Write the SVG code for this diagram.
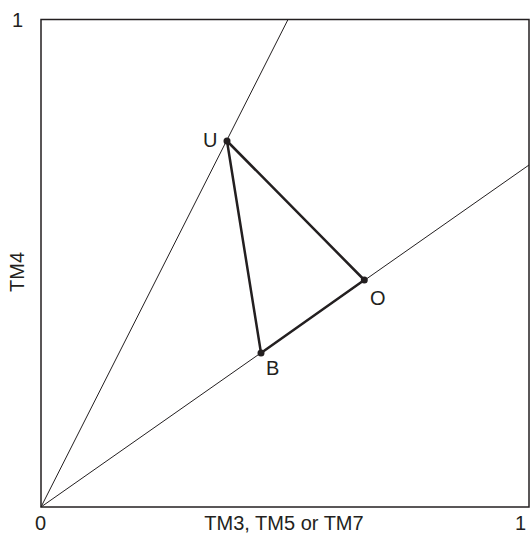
<svg xmlns="http://www.w3.org/2000/svg" width="531" height="536" viewBox="0 0 531 536">
<style>
text{font-family:"Liberation Sans",Arial,sans-serif;font-size:20px;fill:#231f20}
.frame{fill:none;stroke:#231f20;stroke-width:1.5}
.thin{fill:none;stroke:#231f20;stroke-width:1}
.thick{fill:none;stroke:#231f20;stroke-width:2.5;stroke-linejoin:round}
.dot{fill:#231f20}
</style>
<rect width="531" height="536" fill="#fff"/>
<g id="axes">
<rect class="frame" x="41" y="19.5" width="488" height="487.5"/>
<text x="12" y="27">1</text>
<text x="35" y="530">0</text>
<text x="515" y="530">1</text>
<text x="284" y="530" text-anchor="middle">TM3, TM5 or TM7</text>
<text transform="translate(24,272) rotate(-90)" text-anchor="middle">TM4</text>
</g>
<g id="connectors">
<line class="thin" x1="41" y1="507" x2="288" y2="19.5"/>
<line class="thin" x1="41" y1="507" x2="529" y2="165"/>
<polygon class="thick" points="227,141 364.3,280 261,353"/>
</g>
<g id="U"><circle class="dot" cx="227" cy="141" r="3.5"/><text x="203" y="147">U</text></g>
<g id="O"><circle class="dot" cx="364.3" cy="280" r="3.5"/><text x="370" y="305">O</text></g>
<g id="B"><circle class="dot" cx="261" cy="353" r="3.5"/><text x="266" y="375">B</text></g>
</svg>
